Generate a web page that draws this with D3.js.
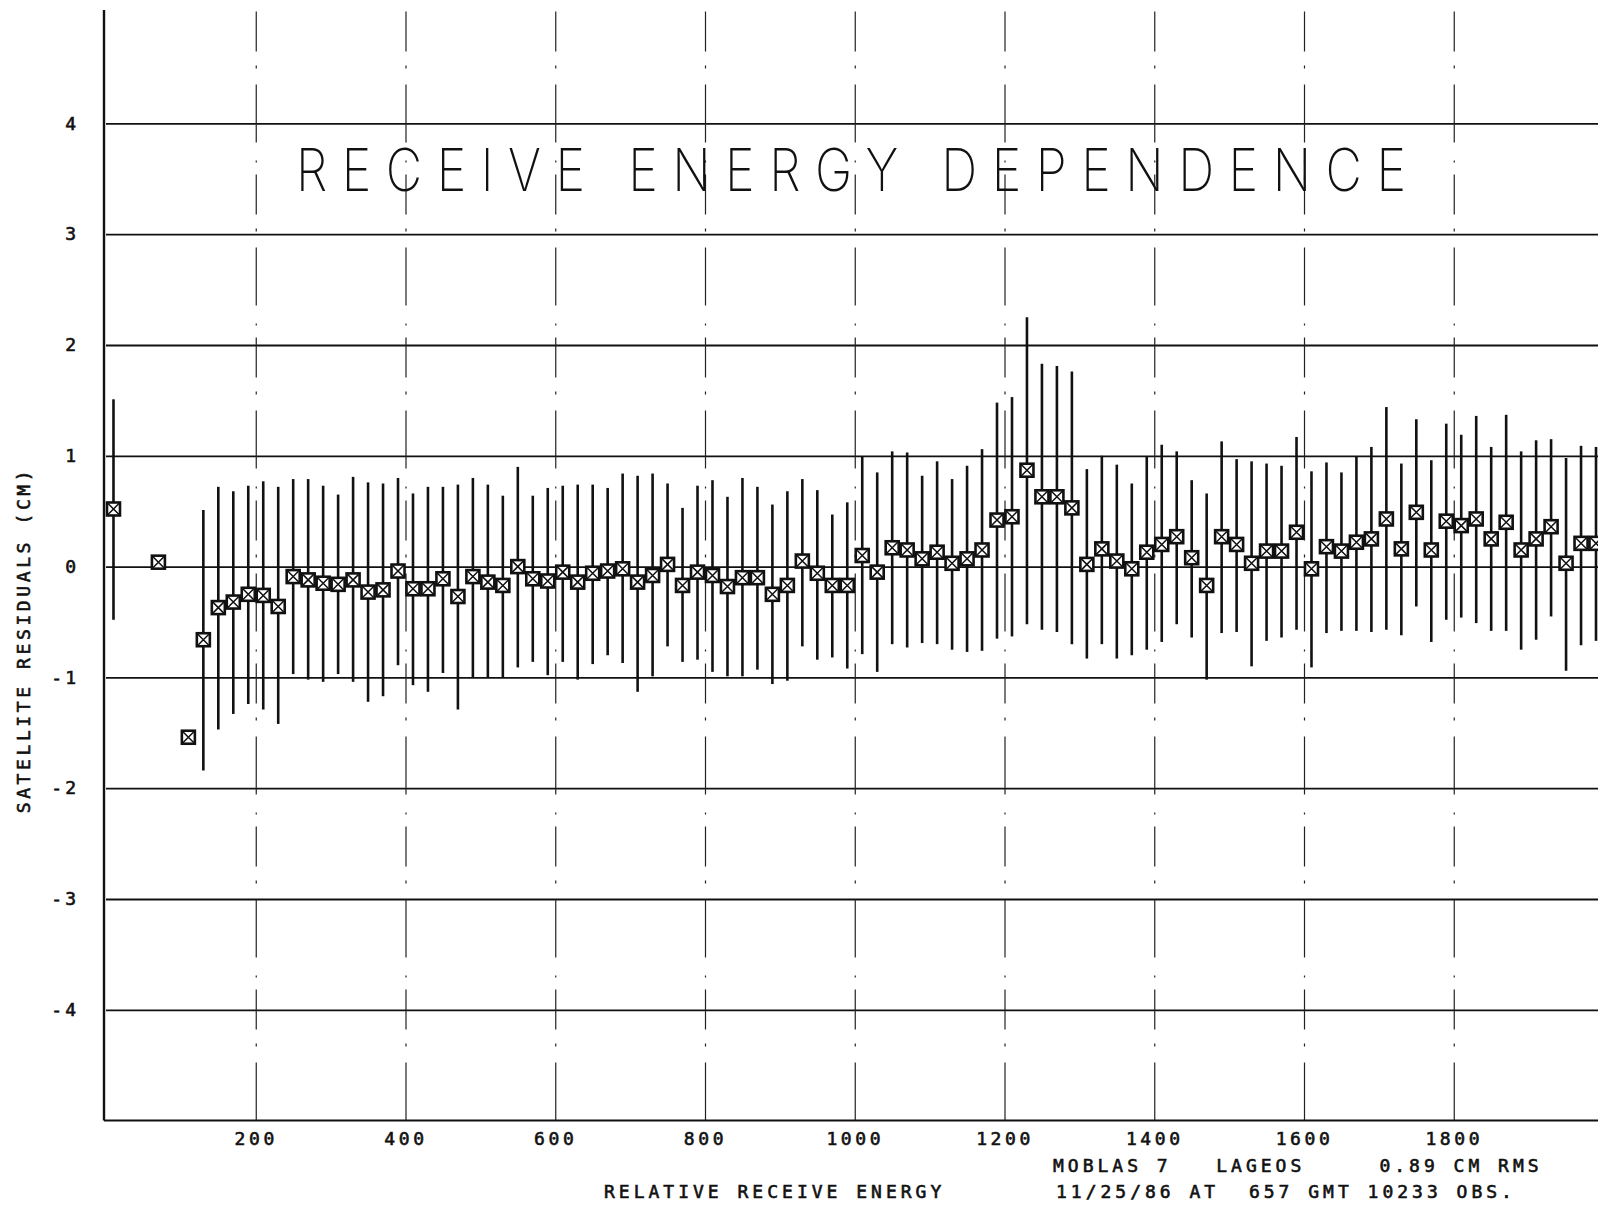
<!DOCTYPE html>
<html>
<head>
<meta charset="utf-8">
<script src="https://cdn.jsdelivr.net/npm/d3@7"></script>
<style>
  body { margin: 0; background: #fff; }
  svg { display: block; }
</style>
</head>
<body>
<script>
// relative receive energy (bin centres)
const energy = [
  10, 70, 110, 130, 150, 170, 190, 210, 230, 250,
  270, 290, 310, 330, 350, 370, 390, 410, 430, 450,
  470, 490, 510, 530, 550, 570, 590, 610, 630, 650,
  670, 690, 710, 730, 750, 770, 790, 810, 830, 850,
  870, 890, 910, 930, 950, 970, 990, 1010, 1030, 1050,
  1070, 1090, 1110, 1130, 1150, 1170, 1190, 1210, 1230, 1250,
  1270, 1290, 1310, 1330, 1350, 1370, 1390, 1410, 1430, 1450,
  1470, 1490, 1510, 1530, 1550, 1570, 1590, 1610, 1630, 1650,
  1670, 1690, 1710, 1730, 1750, 1770, 1790, 1810, 1830, 1850,
  1870, 1890, 1910, 1930, 1950, 1970, 1990
];
// mean satellite residual (cm)
const residual = [
  0.52, 0.04, -1.54, -0.66, -0.37, -0.32, -0.25, -0.26, -0.36, -0.09,
  -0.12, -0.15, -0.16, -0.12, -0.23, -0.21, -0.04, -0.20, -0.20, -0.11,
  -0.27, -0.09, -0.14, -0.17, 0.00, -0.11, -0.13, -0.05, -0.14, -0.06,
  -0.04, -0.02, -0.14, -0.08, 0.02, -0.17, -0.05, -0.08, -0.18, -0.10,
  -0.10, -0.25, -0.17, 0.05, -0.06, -0.17, -0.17, 0.10, -0.05, 0.17,
  0.15, 0.07, 0.13, 0.03, 0.07, 0.15, 0.42, 0.45, 0.87, 0.63,
  0.63, 0.53, 0.02, 0.16, 0.05, -0.02, 0.13, 0.20, 0.27, 0.08,
  -0.17, 0.27, 0.20, 0.03, 0.14, 0.14, 0.31, -0.02, 0.18, 0.14,
  0.22, 0.25, 0.43, 0.16, 0.49, 0.15, 0.41, 0.37, 0.43, 0.25,
  0.40, 0.15, 0.25, 0.36, 0.03, 0.21, 0.21
];
// top and bottom of each error bar (cm), null = no bar
const barHigh = [
  1.51, null, null, 0.51, 0.72, 0.68, 0.73, 0.77, 0.72, 0.79,
  0.79, 0.73, 0.65, 0.81, 0.76, 0.75, 0.80, 0.66, 0.72, 0.72,
  0.74, 0.80, 0.74, 0.64, 0.90, 0.64, 0.71, 0.73, 0.74, 0.74,
  0.71, 0.84, 0.82, 0.84, 0.75, 0.53, 0.73, 0.78, 0.63, 0.80,
  0.72, 0.56, 0.68, 0.79, 0.69, 0.47, 0.58, 0.99, 0.85, 1.04,
  1.03, 0.82, 0.95, 0.79, 0.91, 1.06, 1.48, 1.53, 2.25, 1.83,
  1.81, 1.76, 0.88, 1.00, 0.92, 0.75, 0.99, 1.10, 1.04, 0.78,
  0.66, 1.13, 0.97, 0.95, 0.93, 0.91, 1.17, 0.86, 0.94, 0.85,
  0.99, 1.08, 1.44, 0.93, 1.33, 0.96, 1.29, 1.19, 1.36, 1.08,
  1.37, 1.04, 1.14, 1.15, 0.98, 1.09, 1.08
];
const barLow = [
  -0.48, null, null, -1.84, -1.47, -1.33, -1.24, -1.29, -1.42, -0.97,
  -1.02, -1.04, -0.97, -1.04, -1.22, -1.17, -0.89, -1.07, -1.13, -0.96,
  -1.29, -1.00, -1.00, -1.00, -0.91, -0.86, -0.98, -0.86, -1.02, -0.88,
  -0.80, -0.87, -1.13, -0.99, -0.72, -0.86, -0.84, -0.95, -0.99, -0.99,
  -0.93, -1.06, -1.03, -0.72, -0.84, -0.82, -0.92, -0.79, -0.95, -0.70,
  -0.73, -0.69, -0.70, -0.75, -0.77, -0.76, -0.65, -0.63, -0.52, -0.57,
  -0.59, -0.70, -0.83, -0.70, -0.83, -0.80, -0.75, -0.68, -0.52, -0.64,
  -1.02, -0.60, -0.59, -0.90, -0.67, -0.64, -0.57, -0.91, -0.60, -0.58,
  -0.58, -0.59, -0.57, -0.62, -0.36, -0.68, -0.48, -0.46, -0.51, -0.58,
  -0.58, -0.75, -0.66, -0.45, -0.94, -0.71, -0.67
];
const xTicks = [200, 400, 600, 800, 1000, 1200, 1400, 1600, 1800];
const yTicks = [-4, -3, -2, -1, 0, 1, 2, 3, 4];

const width = 1598;
const height = 1206;
const mono = "'DejaVu Sans Mono', 'Liberation Mono', monospace";

const x = d3.scaleLinear().domain([0, 2000]).range([106, 1603.5]);
const y = d3.scaleLinear().domain([-5, 5]).range([1120.6, 12.6]);

const svg = d3.select("body")
  .append("svg")
  .attr("width", width)
  .attr("height", height);

svg.append("rect")
  .attr("width", width)
  .attr("height", height)
  .attr("fill", "#fff");

// small plotter lettering
function plotterText(sel, spacing) {
  return sel
    .style("font-family", mono)
    .style("font-weight", "normal")
    .style("font-size", "18px")
    .style("letter-spacing", spacing + "px")
    .style("white-space", "pre")
    .attr("fill", "#111")
    .attr("stroke", "#111")
    .attr("stroke-width", 0.6);
}

// horizontal grid lines + y labels
const gy = svg.append("g")
  .attr("transform", `translate(${x(0)},0)`)
  .call(d3.axisLeft(y)
    .tickValues(yTicks)
    .tickSize(-(width - x(0)))
    .tickPadding(27)
    .tickFormat(d => d));
gy.select(".domain").remove();
gy.selectAll(".tick line").attr("stroke", "#111").attr("stroke-width", 1.8);
plotterText(gy.selectAll(".tick text"), 3);

// vertical (broken) grid lines + x labels
const gx = svg.append("g")
  .attr("transform", `translate(0,${y(-5)})`)
  .call(d3.axisBottom(x)
    .tickValues(xTicks)
    .tickSizeInner(-(y(-5) - 10))
    .tickSizeOuter(0)
    .tickPadding(12)
    .tickFormat(d => d));
gx.select(".domain").remove();
gx.selectAll(".tick line")
  .attr("stroke", "#222")
  .attr("stroke-width", 1.2)
  .attr("stroke-dasharray", "58,16,3,14,40,12,2,18");
plotterText(gx.selectAll(".tick text"), 3.6);

// frame: left axis and bottom axis
svg.append("line")
  .attr("x1", x(0) - 2).attr("x2", x(0) - 2)
  .attr("y1", 10).attr("y2", y(-5))
  .attr("stroke", "#111").attr("stroke-width", 2.4);
svg.append("line")
  .attr("x1", x(0) - 2).attr("x2", width)
  .attr("y1", y(-5)).attr("y2", y(-5))
  .attr("stroke", "#111").attr("stroke-width", 2);

// data
const data = energy.map((e, i) => ({
  e: e, r: residual[i], hi: barHigh[i], lo: barLow[i]
}));

svg.append("g")
  .selectAll("line")
  .data(data.filter(d => d.hi !== null))
  .join("line")
  .attr("x1", d => x(d.e))
  .attr("x2", d => x(d.e))
  .attr("y1", d => y(d.hi))
  .attr("y2", d => y(d.lo))
  .attr("stroke", "#111")
  .attr("stroke-width", 2.6);

const s = 6.5;
const marks = svg.append("g")
  .selectAll("g")
  .data(data)
  .join("g")
  .attr("transform", d => `translate(${x(d.e)},${y(d.r)})`);
marks.append("rect")
  .attr("x", -s).attr("y", -s)
  .attr("width", 2 * s).attr("height", 2 * s)
  .attr("fill", "#fff")
  .attr("stroke", "#111")
  .attr("stroke-width", 2.6);
marks.append("path")
  .attr("d", `M${-s},${-s}L${s},${s}M${s},${-s}L${-s},${s}`)
  .attr("stroke", "#111")
  .attr("stroke-width", 1.5);

// title, squeezed horizontally to get the narrow plotter letters
const squeeze = 0.85;
svg.append("text")
  .attr("transform", `scale(${squeeze},1)`)
  .attr("x", 296 / squeeze)
  .attr("y", 191)
  .attr("textLength", 1110 / squeeze)
  .attr("lengthAdjust", "spacing")
  .style("font-family", "Inter, Roboto, Lato, sans-serif")
  .style("font-weight", "200")
  .style("font-size", "59px")
  .attr("fill", "#111")
  .text("RECEIVE ENERGY DEPENDENCE");

// axis titles
plotterText(svg.append("text"), 4)
  .attr("x", 604)
  .attr("y", 1198)
  .text("RELATIVE RECEIVE ENERGY");

plotterText(svg.append("text"), 3.6)
  .attr("transform", "translate(30,640) rotate(-90)")
  .attr("text-anchor", "middle")
  .text("SATELLITE RESIDUALS (CM)");

// station info
plotterText(svg.append("text"), 4)
  .attr("x", 1053)
  .attr("y", 1172)
  .text("MOBLAS 7   LAGEOS     0.89 CM RMS");

plotterText(svg.append("text"), 4)
  .attr("x", 1056)
  .attr("y", 1198)
  .text("11/25/86 AT  657 GMT 10233 OBS.");
</script>
</body>
</html>
